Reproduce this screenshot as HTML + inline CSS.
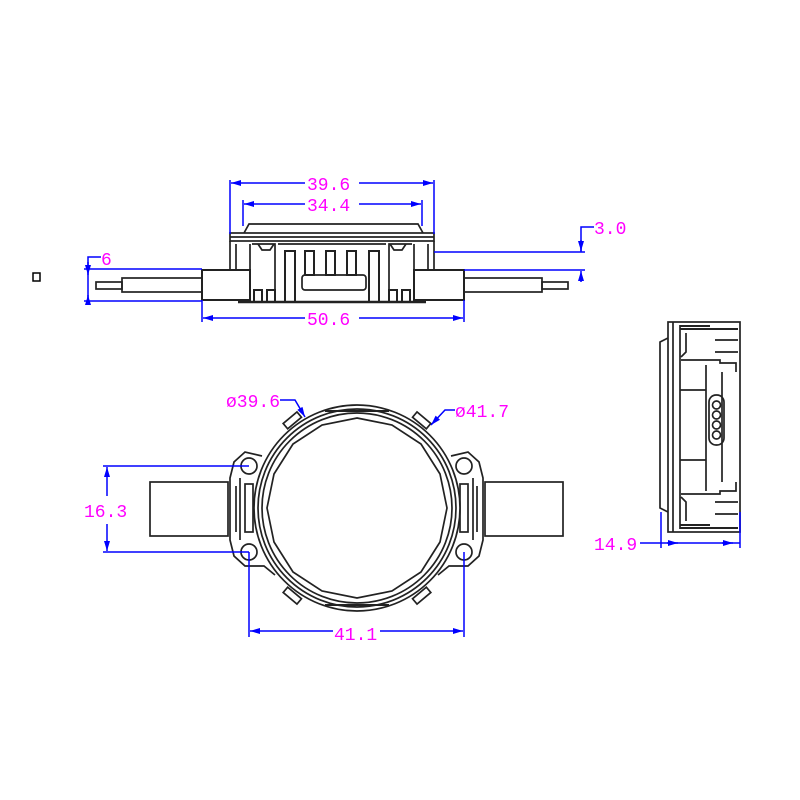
<!DOCTYPE html>
<html><head><style>
html,body{margin:0;padding:0;background:#fff;}
svg{display:block}
text{font-family:"Liberation Mono","DejaVu Sans Mono",monospace;fill:#ff00ff;font-size:18px}
</style></head><body>
<svg width="800" height="800" viewBox="0 0 800 800" xmlns="http://www.w3.org/2000/svg">
<defs>
<marker id="a" viewBox="0 0 10 6" refX="10" refY="3" markerWidth="7" markerHeight="4" orient="auto-start-reverse"><path d="M0,0L10,3L0,6z" fill="#0000ff"/></marker>
</defs>
<rect x="33" y="273" width="7" height="8" fill="none" stroke="#000" stroke-width="1.5"/>

<!-- TOP VIEW -->
<g fill="none" stroke="#222" stroke-width="1.7">
<path d="M244,233 L249,224 L418,224 L423,233"/>
<rect x="230" y="233" width="204" height="8"/>
<line x1="230" y1="237" x2="434" y2="237"/>
<line x1="230" y1="241" x2="230" y2="270"/>
<line x1="434" y1="241" x2="434" y2="270"/>
<line x1="236" y1="244" x2="236" y2="270"/>
<line x1="428" y1="244" x2="428" y2="270"/>
<path d="M250,244 L250,302 M414,244 L414,302"/>
<line x1="238" y1="302" x2="426" y2="302" stroke-width="2.5"/>
<path d="M252,244 L275,244 L275,302"/>
<path d="M412,244 L389,244 L389,302"/>
<path d="M258,244 L262,250 L270,250 L274,244"/>
<path d="M406,244 L402,250 L394,250 L390,244"/>
<rect x="254" y="290" width="8" height="12" stroke-width="2"/>
<rect x="267" y="290" width="8" height="12" stroke-width="2"/>
<rect x="389" y="290" width="8" height="12" stroke-width="2"/>
<rect x="402" y="290" width="8" height="12" stroke-width="2"/>
<rect x="285" y="251" width="10" height="51" stroke-width="2"/>
<rect x="369" y="251" width="10" height="51" stroke-width="2"/>
<rect x="305" y="251" width="9" height="24" stroke-width="2"/>
<rect x="326" y="251" width="9" height="24" stroke-width="2"/>
<rect x="347" y="251" width="9" height="24" stroke-width="2"/>
<rect x="302" y="275" width="64" height="15" rx="3"/>
<line x1="278" y1="244" x2="386" y2="244"/>
<rect x="202" y="270" width="48" height="30" stroke-width="2"/>
<rect x="414" y="270" width="50" height="30" stroke-width="2"/>
<rect x="122" y="278" width="80" height="14"/>
<rect x="96" y="282" width="26" height="7"/>
<rect x="464" y="278" width="78" height="14"/>
<rect x="542" y="282" width="26" height="7"/>
</g>
<g stroke="#0000ff" stroke-width="1.5" fill="none">
<line x1="230" y1="180" x2="230" y2="234"/><line x1="434" y1="180" x2="434" y2="234"/>
<line x1="231" y1="183" x2="305" y2="183" marker-start="url(#a)"/><line x1="359" y1="183" x2="433" y2="183" marker-end="url(#a)"/>
<line x1="243" y1="200" x2="243" y2="226"/><line x1="422" y1="200" x2="422" y2="226"/>
<line x1="244" y1="204" x2="305" y2="204" marker-start="url(#a)"/><line x1="359" y1="204" x2="421" y2="204" marker-end="url(#a)"/>
<line x1="202" y1="300" x2="202" y2="322"/><line x1="464" y1="300" x2="464" y2="322"/>
<line x1="203" y1="318" x2="305" y2="318" marker-start="url(#a)"/><line x1="359" y1="318" x2="463" y2="318" marker-end="url(#a)"/>
<line x1="84" y1="269" x2="202" y2="269"/><line x1="84" y1="301" x2="202" y2="301"/>
<polyline points="101,257 88,257 88,300"/>
<line x1="88" y1="262" x2="88" y2="275" marker-end="url(#a)"/>
<line x1="88" y1="295" x2="88" y2="302" marker-start="url(#a)"/>
<line x1="434" y1="252" x2="585" y2="252"/><line x1="464" y1="270" x2="585" y2="270"/>
<polyline points="594,227 581,227 581,252"/>
<line x1="581" y1="240" x2="581" y2="251" marker-end="url(#a)"/>
<line x1="581" y1="271" x2="581" y2="282" marker-start="url(#a)"/>
</g>
<text x="307" y="190">39.6</text>
<text x="307" y="211">34.4</text>
<text x="307" y="325">50.6</text>
<text x="101" y="265">6</text>
<text x="594" y="234">3.0</text>

<!-- BOTTOM VIEW -->
<g fill="none" stroke="#222" stroke-width="1.7">
<rect x="150" y="482" width="78" height="54"/>
<rect x="485" y="482" width="78" height="54"/>
<path d="M262,456 L245,452 L234,462 L230,478 L230,540 L234,556 L245,566 L264,566 L275,575"/>
<path d="M451,456 L468,452 L479,462 L483,478 L483,540 L479,556 L468,566 L449,566 L438,575"/>
<path d="M236,486 L236,532 M240,478 L240,540"/>
<path d="M477,486 L477,532 M473,478 L473,540"/>
<rect x="245" y="484" width="8" height="48"/>
<rect x="460" y="484" width="8" height="48"/>
<circle cx="249" cy="466" r="8"/><circle cx="249" cy="552" r="8"/>
<circle cx="464" cy="466" r="8"/><circle cx="464" cy="552" r="8"/>
<circle cx="357" cy="508" r="103" fill="#fff"/>
<circle cx="357" cy="508" r="99"/>
<circle cx="357" cy="508" r="95"/>
<polygon points="357,418 392,425 421,444 440,474 447,508 440,542 421,572 392,591 357,598 322,591 293,572 274,542 267,508 274,474 293,444 322,425"/>
<path d="M325,411 L389,411 M325,605 L389,605" stroke-width="2"/>
<rect x="283" y="417" width="18" height="7" transform="rotate(-40 292 420)"/>
<rect x="413" y="417" width="18" height="7" transform="rotate(40 422 420)"/>
<rect x="283" y="592" width="18" height="7" transform="rotate(40 292 596)"/>
<rect x="413" y="592" width="18" height="7" transform="rotate(-40 422 596)"/>
</g>
<g stroke="#0000ff" stroke-width="1.5" fill="none">
<line x1="103" y1="466" x2="249" y2="466"/><line x1="103" y1="552" x2="249" y2="552"/>
<line x1="107" y1="467" x2="107" y2="496" marker-start="url(#a)"/><line x1="107" y1="524" x2="107" y2="551" marker-end="url(#a)"/>
<line x1="249" y1="552" x2="249" y2="637"/><line x1="464" y1="552" x2="464" y2="637"/>
<line x1="250" y1="631" x2="333" y2="631" marker-start="url(#a)"/><line x1="380" y1="631" x2="463" y2="631" marker-end="url(#a)"/>
<polyline points="280,400 295,400 305,417" marker-end="url(#a)"/>
<polyline points="455,410 445,410 431,425" marker-end="url(#a)"/>
</g>
<text x="84" y="517">16.3</text>
<text x="334" y="640">41.1</text>
<text x="226" y="407">ø39.6</text>
<text x="455" y="417">ø41.7</text>

<!-- SIDE VIEW -->
<g fill="none" stroke="#222" stroke-width="1.7">
<path d="M668,338 L660,342 L660,508 L668,512"/>
<rect x="668" y="322" width="72" height="210"/>
<line x1="673" y1="322" x2="673" y2="532"/>
<line x1="680" y1="325" x2="680" y2="529"/>
<path d="M680,326 L710,326 M680,329 L738,329" stroke-width="2"/>
<path d="M681,360 L720,360 L720,363 L736,363 L736,372 M715,340 L738,340 M715,352 L738,352"/>
<path d="M686,333 L686,352 L681,357"/>
<path d="M681,494 L720,494 L720,491 L736,491 L736,482 M715,514 L738,514 M715,502 L738,502"/>
<path d="M686,521 L686,502 L681,497"/>
<path d="M680,525 L710,525 M680,528 L738,528" stroke-width="2"/>
<line x1="706" y1="365" x2="706" y2="491"/>
<line x1="680" y1="390" x2="706" y2="390"/>
<line x1="680" y1="460" x2="706" y2="460"/>
<line x1="722" y1="372" x2="722" y2="482"/>
<rect x="709" y="395" width="15" height="50" rx="7"/>
<circle cx="716.5" cy="405" r="4"/><circle cx="716.5" cy="415" r="4"/>
<circle cx="716.5" cy="425" r="4"/><circle cx="716.5" cy="435" r="4"/>
</g>
<g stroke="#0000ff" stroke-width="1.5" fill="none">
<line x1="661" y1="512" x2="661" y2="548"/><line x1="740" y1="512" x2="740" y2="548"/>
<line x1="640" y1="543" x2="740" y2="543"/>
<line x1="667" y1="543" x2="678" y2="543" marker-end="url(#a)"/>
<line x1="722" y1="543" x2="733" y2="543" marker-end="url(#a)"/>
</g>
<text x="594" y="550">14.9</text>
</svg>
</body></html>
